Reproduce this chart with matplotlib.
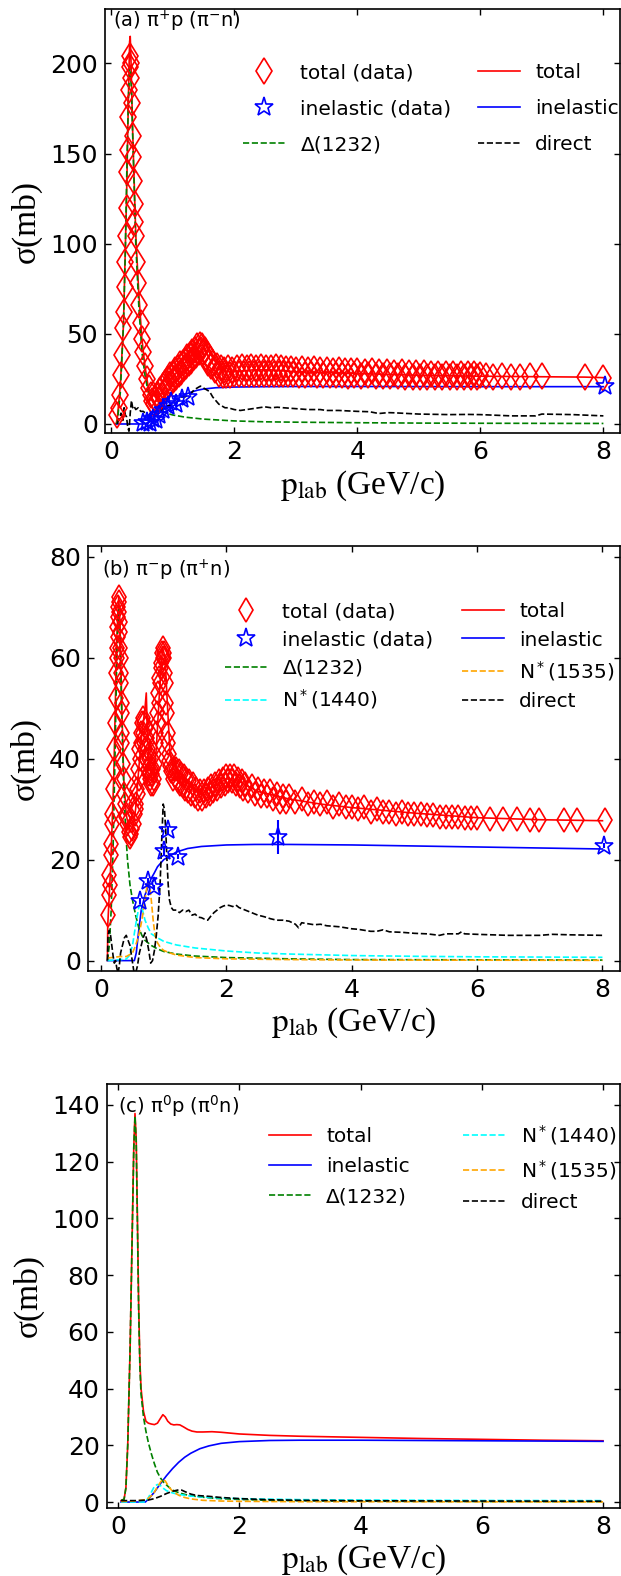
import numpy as np
import matplotlib
matplotlib.use("Agg")
import matplotlib.pyplot as plt

plt.rcParams["font.family"] = ["DejaVu Sans"]

# ---------------- panel (a): pi+ p ----------------
a_data_p = [0.10, 0.12, 0.14, 0.16, 0.18, 0.20, 0.21, 0.22, 0.23, 0.24, 0.25, 0.26, 0.27, 0.28,
            0.29, 0.30, 0.31, 0.32, 0.33, 0.34, 0.35, 0.36, 0.37, 0.38, 0.39, 0.40, 0.42, 0.44,
            0.46, 0.48, 0.50, 0.52, 0.55, 0.58, 0.61, 0.64, 0.67,
            0.70, 0.72, 0.74, 0.76, 0.78, 0.80, 0.82, 0.84, 0.86, 0.88, 0.90, 0.92, 0.94, 0.96,
            0.98, 1.00, 1.02, 1.04, 1.06, 1.08, 1.10, 1.12, 1.14, 1.16, 1.18, 1.20, 1.22, 1.24,
            1.26, 1.28, 1.30, 1.32, 1.34, 1.36, 1.38, 1.40, 1.42, 1.44, 1.46, 1.48, 1.50, 1.52,
            1.54, 1.56, 1.58, 1.60, 1.63, 1.66, 1.69, 1.72, 1.75, 1.78, 1.81, 1.84, 1.87, 1.90,
            1.93, 1.96, 2.00, 2.04, 2.08, 2.12, 2.16, 2.20, 2.24, 2.28, 2.32, 2.36, 2.40, 2.44,
            2.48, 2.52, 2.56, 2.60, 2.64, 2.68, 2.72, 2.76, 2.80, 2.84, 2.88, 2.92, 2.96, 3.00,
            3.05, 3.10, 3.15, 3.20, 3.25, 3.30, 3.35, 3.40, 3.45, 3.50, 3.55, 3.60, 3.65, 3.70,
            3.75, 3.80, 3.85, 3.90, 3.95, 4.00, 4.06, 4.12, 4.18, 4.24, 4.30, 4.36, 4.42, 4.48,
            4.54, 4.60, 4.66, 4.72, 4.78, 4.84, 4.90, 4.96, 5.02, 5.08, 5.14, 5.20, 5.26, 5.32,
            5.38, 5.44, 5.50, 5.56, 5.62, 5.68, 5.74, 5.80, 5.85, 5.90, 5.95, 6.00, 6.10, 6.20,
            6.35, 6.50, 6.65, 6.80, 7.00, 7.70, 8.00]
a_data_s = [5, 9, 16, 27, 38, 53, 62, 76, 90, 104, 120, 140, 152, 170,
            185, 198, 204, 200, 192, 178, 160, 148, 135, 122, 112, 104, 90, 78,
            66, 56, 47, 40, 32, 25, 20, 16, 13,
            11, 14, 12, 16, 14, 19, 16, 21, 18, 23, 20, 25, 22, 27,
            23, 28, 25, 30, 26, 31, 28, 33, 29, 34, 31, 35, 32, 37,
            34, 38, 35, 40, 37, 41, 38, 43, 40, 44, 41, 43, 40, 41,
            37, 39, 34, 36, 32, 34, 30, 32, 28, 31, 27, 30, 27, 31,
            27, 30, 28, 31, 27.5, 31.5, 28, 31, 27.5, 31.5, 28, 31, 28, 31.5,
            28, 31, 27.5, 31, 28, 31.5, 27.5, 31, 28, 30.5, 27.5, 30.5, 28, 30,
            27, 30.5, 27, 30, 28, 30.5, 27, 30, 27, 30, 27, 29.5, 27, 30,
            27, 29.5, 26.5, 29.5, 27, 29.5, 26.5, 29, 27, 29.5, 26.5, 29, 26.5, 29,
            26.5, 28.5, 26.5, 29, 26, 28.5, 26, 28.5, 26, 28.5, 26, 28, 26, 28,
            26, 28, 26, 27.5, 26, 28, 26, 27.5, 26, 27.5, 26, 27, 26.5, 26,
            26.5, 26, 26, 26.5, 26.5, 26, 25.5]

a_tot_p = [0.08, 0.10, 0.15, 0.20, 0.25, 0.28, 0.30, 0.31, 0.32, 0.35, 0.40, 0.45, 0.50, 0.55,
           0.60, 0.65, 0.70, 0.75, 0.80, 0.90, 1.00, 1.10, 1.20, 1.30, 1.40, 1.45, 1.50, 1.60,
           1.70, 1.80, 2.00, 2.30, 2.60, 3.00, 4.00, 5.00, 6.00, 7.00, 7.70, 8.00]
a_tot_s = [0, 3, 22, 55, 125, 180, 212, 215, 205, 162, 105, 72, 47, 32,
           21, 15, 12, 13, 16, 22, 26, 30, 34, 38, 42, 44, 43, 36,
           31, 29.5, 29, 30, 30, 29, 28, 27, 26.5, 26.2, 26, 25.7]

a_inel_data_p = [0.52, 0.58, 0.63, 0.68, 0.73, 0.78, 0.85, 0.92, 0.98, 1.05, 1.15, 1.25, 8.02]
a_inel_data_s = [0.5, 1, 0.5, 3, 2, 5, 8, 10, 12, 11, 14, 15, 21]

a_inel_p = [0.08, 0.55, 0.60, 0.70, 0.80, 0.90, 1.00, 1.10, 1.20, 1.30, 1.40, 1.50, 1.70,
            2.00, 2.50, 3.00, 4.00, 6.00, 8.00]
a_inel_s = [0, 0, 1, 3.5, 6.5, 9.5, 12, 14.5, 16.3, 17.7, 18.7, 19.4, 20.1,
            20.5, 20.7, 20.8, 20.8, 20.7, 20.7]

a_delta_p = [0.08, 0.10, 0.15, 0.20, 0.23, 0.26, 0.28, 0.30, 0.31, 0.33, 0.35, 0.38, 0.40, 0.45,
             0.50, 0.55, 0.60, 0.70, 0.80, 0.90, 1.00, 1.20, 1.50, 2.00, 2.50, 3.00, 4.00, 5.00,
             6.00, 8.00]
a_delta_s = [0, 1, 18, 55, 95, 150, 180, 196, 198, 185, 160, 125, 100, 65,
             40, 27, 18, 11, 7.5, 6, 5, 3.8, 2.7, 1.7, 1.2, 1.0, 0.7, 0.5,
             0.4, 0.3]

a_dir_p = [0.10, 0.13, 0.16, 0.19, 0.21, 0.23, 0.25, 0.27, 0.29, 0.31, 0.33, 0.35, 0.37, 0.40,
           0.44, 0.48, 0.52, 0.56, 0.60, 0.63, 0.66, 0.70, 0.74, 0.78, 0.82, 0.86, 0.90, 0.95,
           1.00, 1.05, 1.10, 1.15, 1.20, 1.25, 1.30, 1.35, 1.40, 1.45, 1.50, 1.55, 1.60, 1.65,
           1.70, 1.75, 1.80, 1.85, 1.90, 2.00, 2.10, 2.20, 2.30, 2.40, 2.50, 2.60, 2.70, 2.80,
           3.00, 3.20, 3.40, 3.50, 3.70, 4.00, 4.20, 4.35, 4.50, 4.60, 5.00, 5.50, 5.80, 6.00,
           6.50, 6.90, 7.00, 7.50, 8.00]
a_dir_s = [0, 3, 6, 2, 9, 5, 4, -2, -4, 6, 13, 9, 10, 8,
           9, 7, 7, 6, 5, 2, 6, 4, 6, 7, 8, 9, 10, 10,
           11, 12, 13, 15, 15, 16, 17, 19, 20, 21, 20, 19, 18, 15,
           13, 11, 10, 9, 9, 8, 7.5, 8, 8.5, 9, 9.5, 9, 9.3, 9,
           8.5, 8, 8, 7.5, 7.5, 7, 6.8, 5.8, 6.3, 6.2, 5.5, 5.2, 5.3, 5.2,
           4.5, 4.5, 5.5, 5.2, 4.5]

# ---------------- panel (b): pi- p ----------------
b_data_p = [0.105, 0.12, 0.13, 0.14, 0.15, 0.16, 0.17, 0.18, 0.19, 0.20, 0.21, 0.22, 0.23, 0.24,
            0.25, 0.255, 0.26, 0.265, 0.27, 0.275, 0.28, 0.285, 0.29, 0.295, 0.30, 0.305, 0.31,
            0.315, 0.32, 0.325, 0.33, 0.335, 0.34, 0.35, 0.36, 0.37, 0.38, 0.39, 0.40, 0.42,
            0.44, 0.46, 0.48, 0.50, 0.52, 0.54, 0.55, 0.56, 0.57, 0.58, 0.59, 0.60, 0.61, 0.62,
            0.63, 0.64, 0.65, 0.66, 0.67, 0.68, 0.69, 0.70, 0.71, 0.72, 0.73, 0.74, 0.75, 0.76,
            0.77, 0.78, 0.79, 0.80, 0.81, 0.82, 0.83, 0.84, 0.85, 0.86, 0.87, 0.88, 0.89, 0.90,
            0.91, 0.92, 0.93, 0.94, 0.95, 0.96, 0.97, 0.98, 0.99, 1.00, 1.01, 1.02, 1.03, 1.04,
            1.05, 1.06, 1.07, 1.08, 1.09, 1.10, 1.12, 1.14, 1.16, 1.18, 1.20, 1.22, 1.24, 1.26,
            1.28, 1.30, 1.32, 1.34, 1.36, 1.38, 1.40, 1.43, 1.46, 1.49, 1.52, 1.55, 1.58, 1.61,
            1.64, 1.67, 1.70, 1.73, 1.76, 1.79, 1.82, 1.85, 1.88, 1.91, 1.94, 1.97, 2.00, 2.03,
            2.06, 2.09, 2.12, 2.15, 2.18, 2.21, 2.24, 2.27, 2.30, 2.35, 2.40, 2.45, 2.50, 2.55,
            2.60, 2.65, 2.70, 2.75, 2.80, 2.85, 2.90, 2.95, 3.00, 3.10, 3.20, 3.30, 3.40, 3.50,
            3.60, 3.70, 3.80, 3.90, 4.00, 4.10, 4.20, 4.30, 4.40, 4.50, 4.60, 4.70, 4.80, 4.90,
            5.00, 5.10, 5.20, 5.30, 5.40, 5.50, 5.60, 5.70, 5.80, 5.90, 6.00, 6.21, 6.41, 6.64,
            6.85, 6.98, 7.38, 7.60, 8.04]
b_data_s = [9, 13, 17, 15, 21, 23, 27, 29, 34, 38, 42, 47, 52, 57,
            62, 60, 66, 64, 70, 68, 72, 71, 69, 67, 65, 62, 60,
            57, 55, 51, 49, 45, 43, 39, 36, 33, 31, 29, 28.5, 27,
            25.5, 24.5, 25, 26, 27, 29, 31, 30, 34, 33, 38, 36, 42, 40,
            45, 43, 47, 45, 48, 43, 47, 42, 46, 40, 44, 38, 42, 37,
            40, 36, 38, 35, 37, 35, 38, 36, 41, 39, 45, 43, 49, 47,
            53, 51, 56, 55, 59, 58, 61, 60, 62, 61, 60, 57, 55, 51,
            49, 45, 43, 41, 39.5, 38.5, 37.5, 36, 38, 36.5, 38, 35.5, 37.5, 35,
            37, 34.5, 36.5, 34, 36, 33.5, 35.5, 33, 35, 32.5, 34, 32, 33.5, 32,
            33.5, 32.5, 34, 33, 34.5, 33.5, 35, 34, 35.5, 34.5, 36, 35, 36.5, 35.5,
            36.5, 35.5, 36.5, 35, 36, 34.5, 35.5, 34, 35, 33.5, 34.5, 33, 34, 32.5,
            33.5, 32.5, 33.5, 32, 33, 31.5, 32.5, 31.5, 32.5, 31.5, 32, 31, 31.5, 31,
            31.5, 30.5, 31, 30.5, 30.5, 30, 30.5, 29.5, 30, 29.5, 29.5, 29, 29.5, 29,
            29, 29, 28.8, 28.8, 28.5, 28.5, 28.5, 28.5, 28.3, 28.3, 28.2, 28, 28, 28,
            27.9, 27.9, 27.8, 27.8, 27.8]

b_tot_p = [0.10, 0.105, 0.15, 0.20, 0.25, 0.28, 0.30, 0.33, 0.36, 0.40, 0.45, 0.50, 0.55, 0.60,
           0.65, 0.70, 0.72, 0.74, 0.78, 0.83, 0.88, 0.93, 0.98, 1.02, 1.06, 1.10, 1.15, 1.25,
           1.40, 1.60, 1.80, 2.00, 2.20, 2.50, 3.00, 3.50, 4.00, 5.00, 6.00, 7.00, 8.00]
b_tot_s = [0, 7, 18, 36, 64, 72, 67, 50, 36, 29, 25.5, 25.5, 30, 38,
           45, 50, 53, 44, 38, 35, 42, 53, 62, 60, 50, 41, 38, 36.5,
           35, 33, 34.5, 36, 35.5, 33.5, 32, 31, 30.3, 29.2, 28.3, 27.9, 27.7]

b_inel_data_p = [0.62, 0.74, 0.84, 1.00, 1.06, 1.22, 2.82, 8.02]
b_inel_data_s = [11.8, 15.8, 14.5, 21.8, 25.9, 20.6, 24.5, 22.7]
b_inel_data_err = [0.5, 0.5, 0.5, 0.8, 0.8, 0.5, 3.3, 0.5]

b_inel_p = [0.10, 0.53, 0.56, 0.60, 0.64, 0.70, 0.80, 0.85, 0.90, 1.00, 1.12, 1.20, 1.38,
            1.60, 2.00, 2.45, 3.00, 4.00, 5.00, 6.00, 7.00, 8.00]
b_inel_s = [0, 0, 1.5, 6, 10, 13, 16.3, 17.4, 18.6, 20, 20.9, 21.5, 22.2,
            22.6, 22.9, 23, 23, 22.9, 22.7, 22.5, 22.3, 22.1]

b_delta_p = [0.10, 0.13, 0.16, 0.19, 0.22, 0.25, 0.27, 0.28, 0.30, 0.33, 0.36, 0.39, 0.42, 0.46,
             0.50, 0.55, 0.60, 0.65, 0.70, 0.80, 0.90, 1.00, 1.20, 1.50, 2.00, 3.00, 4.00, 6.00,
             8.00]
b_delta_s = [0, 3, 10, 22, 40, 60, 69, 70, 64, 48, 35, 26, 20, 15,
             12, 9, 6.5, 5, 4, 3, 2.3, 1.8, 1.3, 0.9, 0.6, 0.35, 0.2, 0.15,
             0.1]

b_n1440_p = [0.10, 0.40, 0.45, 0.50, 0.55, 0.60, 0.63, 0.66, 0.70, 0.75, 0.80, 0.90, 1.00, 1.20,
             1.50, 2.00, 2.50, 3.00, 4.00, 5.00, 6.00, 7.00, 8.00]
b_n1440_s = [0, 0.3, 1, 3, 7, 10.5, 11, 10, 8, 6.5, 5.3, 4.5, 3.8, 3.1,
             2.5, 1.9, 1.5, 1.3, 1.0, 0.85, 0.75, 0.7, 0.65]

b_n1535_p = [0.10, 0.30, 0.40, 0.50, 0.55, 0.60, 0.65, 0.70, 0.74, 0.77, 0.80, 0.83, 0.86, 0.90,
             0.95, 1.00, 1.10, 1.20, 1.50, 2.00, 3.00, 4.00, 8.00]
b_n1535_s = [0.5, 0.8, 0.8, 1.5, 3, 5, 8, 12, 15.5, 15, 12, 8, 5, 3.5,
             2.5, 2, 1.5, 1.1, 0.6, 0.35, 0.2, 0.12, 0.05]

b_dir_p = [0.10, 0.11, 0.13, 0.15, 0.17, 0.19, 0.21, 0.23, 0.25, 0.27, 0.29, 0.31, 0.34, 0.37,
           0.40, 0.43, 0.46, 0.49, 0.52, 0.55, 0.58, 0.61, 0.64, 0.67, 0.70, 0.73, 0.76, 0.79,
           0.82, 0.85, 0.88, 0.91, 0.94, 0.97, 0.99, 1.01, 1.03, 1.05, 1.07, 1.09, 1.12, 1.15,
           1.20, 1.25, 1.30, 1.35, 1.40, 1.45, 1.50, 1.55, 1.60, 1.65, 1.70, 1.75, 1.80, 1.85,
           1.90, 1.95, 2.00, 2.05, 2.10, 2.15, 2.20, 2.30, 2.40, 2.50, 2.60, 2.70, 2.80, 2.90,
           3.00, 3.10, 3.15, 3.20, 3.30, 3.40, 3.50, 3.60, 3.70, 3.80, 3.90, 4.00, 4.10, 4.20,
           4.30, 4.40, 4.50, 4.60, 4.80, 5.00, 5.20, 5.40, 5.50, 5.70, 5.75, 5.80, 6.00, 6.50,
           7.00, 7.20, 7.50, 8.00]
b_dir_s = [0, 5, 6, 5, 3, 1, -0.5, 0, -1.5, -2.5, -1, 1.5, 3, 4.5,
           5, 4, 3, 0.5, -2, -2.5, -1, 1.5, 3, 4.5, 5.5, 4, 2, -0.5,
           0, 2, 5, 9, 15, 25, 31, 30, 26, 20, 15, 12, 10.5, 10,
           10, 9.5, 10, 9.7, 10, 9, 9.2, 8.6, 8.5, 8.2, 8, 8.8, 9.5, 10,
           10.5, 10.8, 11, 10.9, 10.7, 11, 10.5, 10, 9.5, 9, 8.7, 8.3, 8, 8,
           7.8, 7.2, 6.5, 7.5, 7.3, 7.1, 7.2, 6.9, 6.8, 6.7, 6.5, 6.3, 6.2, 6.0,
           5.8, 5.8, 6.1, 5.7, 5.6, 5.4, 5.3, 5.0, 5.3, 5.3, 5.7, 5.3, 5.2, 5.0,
           5.0, 5.2, 5.1, 5.0]

# ---------------- panel (c): pi0 p ----------------
c_tot_p = [0.05, 0.10, 0.13, 0.16, 0.20, 0.23, 0.26, 0.28, 0.30, 0.32, 0.34, 0.36, 0.38, 0.42,
           0.46, 0.50, 0.55, 0.60, 0.65, 0.70, 0.74, 0.78, 0.82, 0.87, 0.92, 0.97, 1.02, 1.08,
           1.15, 1.22, 1.30, 1.40, 1.55, 1.70, 2.00, 2.50, 3.00, 4.00, 5.00, 6.00, 7.00, 8.00]
c_tot_s = [0.5, 1, 5, 20, 55, 90, 125, 137, 128, 100, 70, 50, 40, 32,
           28.5, 27.8, 27.5, 27.3, 27.8, 29.5, 30.8, 30, 28.5, 27.5, 27.2, 27.3, 27.2, 26.5,
           25.6, 25, 24.7, 24.7, 24.8, 24.6, 24, 23.5, 23.2, 22.8, 22.4, 22.1, 21.8, 21.6]

c_inel_p = [0.05, 0.45, 0.50, 0.60, 0.70, 0.80, 0.90, 1.00, 1.10, 1.20, 1.35, 1.50, 1.70, 2.00,
            2.50, 3.00, 4.00, 5.00, 6.00, 7.00, 8.00]
c_inel_s = [0, 0, 1, 3.5, 6.5, 9.3, 11.8, 14, 15.8, 17.2, 18.8, 19.8, 20.7, 21.3,
            21.7, 21.8, 21.8, 21.7, 21.6, 21.5, 21.4]

c_delta_p = [0.05, 0.10, 0.13, 0.16, 0.20, 0.23, 0.26, 0.28, 0.30, 0.32, 0.34, 0.36, 0.38, 0.42,
             0.46, 0.50, 0.55, 0.60, 0.65, 0.70, 0.75, 0.80, 0.85, 0.90, 1.00, 1.10, 1.20, 1.40,
             1.60, 2.00, 2.50, 3.00, 4.00, 5.00, 6.00, 8.00]
c_delta_s = [0.5, 1, 5, 20, 55, 90, 125, 136, 127, 98, 68, 48, 38, 30,
             25, 21, 17, 13.5, 10.5, 8.5, 7, 6, 5, 4.2, 3.3, 2.7, 2.2, 1.7,
             1.3, 0.9, 0.6, 0.45, 0.3, 0.22, 0.17, 0.12]

c_n1440_p = [0.05, 0.45, 0.50, 0.55, 0.60, 0.65, 0.70, 0.75, 0.80, 0.90, 1.00, 1.20, 1.50, 2.00,
             3.00, 4.00, 6.00, 8.00]
c_n1440_s = [0, 0, 1.5, 3.5, 5.5, 6.2, 5.8, 4.8, 4, 3.2, 2.7, 2.1, 1.6, 1.2,
             0.85, 0.7, 0.55, 0.5]

c_n1535_p = [0.05, 0.30, 0.45, 0.50, 0.55, 0.60, 0.65, 0.70, 0.74, 0.78, 0.82, 0.86, 0.90, 1.00,
             1.10, 1.20, 1.40, 1.70, 2.00, 3.00, 8.00]
c_n1535_s = [0.2, 0.4, 0.8, 1.3, 2.2, 3.5, 5.3, 7, 8, 7.4, 6, 4.8, 3.8, 2.4,
             1.6, 1.1, 0.6, 0.35, 0.25, 0.12, 0.05]

c_dir_p = [0.05, 0.30, 0.50, 0.60, 0.70, 0.80, 0.90, 1.00, 1.05, 1.10, 1.20, 1.30, 1.50, 1.70,
           2.00, 2.50, 3.00, 4.00, 6.00, 8.00]
c_dir_s = [0.5, 0.5, 0.7, 1.2, 2, 3, 3.8, 4.3, 4.2, 3.7, 2.8, 2.3, 2, 1.6,
           1.2, 0.8, 0.6, 0.45, 0.35, 0.3]

xticks = [0, 2, 4, 6, 8]

fig = plt.figure(figsize=(6.21, 15.76), dpi=100)
W, H = 621.0, 1576.0


def make_ax(left, top, right, bottom):
    return fig.add_axes([left / W, 1 - bottom / H, (right - left) / W, (bottom - top) / H])


def style(ax, xlim, ylim, yticks, label, lab_xy):
    ax.set_xlim(*xlim)
    ax.set_ylim(*ylim)
    ax.set_xticks(xticks)
    ax.set_yticks(yticks)
    ax.tick_params(direction="in", top=True, right=True, length=4, width=1,
                   labelsize=18, pad=5)
    for sp in ax.spines.values():
        sp.set_linewidth(1.2)
    ax.set_xlabel(r"$\mathrm{p_{lab}}$ (GeV/c)", fontsize=24, family="Liberation Serif",
                  math_fontfamily="stix", labelpad=3)
    ax.set_ylabel("σ(mb)", fontsize=24, family="Liberation Serif", labelpad=6)
    ax.text(lab_xy[0], lab_xy[1], label, transform=ax.transAxes, fontsize=14,
            va="center", ha="left")


lw = 1.2
ms_d = 13
ms_s = 14
leg_kw = dict(ncol=2, frameon=False, loc="upper left", borderpad=0, borderaxespad=0,
              fontsize=14.5, handlelength=2.1, handletextpad=0.75)

# ---- (a)
ax = make_ax(105, 9.3, 620, 433)
h_tot, = ax.plot(a_tot_p, a_tot_s, color="red", lw=lw, label="total")
h_inel, = ax.plot(a_inel_p, a_inel_s, color="blue", lw=lw, label="inelastic")
h_del, = ax.plot(a_delta_p, a_delta_s, color="green", lw=lw, ls="--", label="Δ(1232)")
h_dir, = ax.plot(a_dir_p, a_dir_s, color="black", lw=lw, ls="--", label="direct")
h_td, = ax.plot(a_data_p, a_data_s, ls="none", marker="d", ms=ms_d, mfc="none", mec="red",
                mew=1.2, label="total (data)")
h_id, = ax.plot(a_inel_data_p, a_inel_data_s, ls="none", marker="*", ms=ms_s, mfc="none",
                mec="blue", mew=1.2, label="inelastic (data)")
style(ax, (-0.1, 8.27), (-5, 230), [0, 50, 100, 150, 200],
      "(a) π$^{+}$p (π$^{-}$n)", (0.015, 0.972))
ax.legend(handles=[h_td, h_id, h_del, h_tot, h_inel, h_dir], bbox_to_anchor=(0.268, 0.873),
          columnspacing=1.3, labelspacing=0.85, **leg_kw)

# ---- (b)
ax = make_ax(88, 546, 620, 970.7)
h_tot, = ax.plot(b_tot_p, b_tot_s, color="red", lw=lw, label="total")
h_inel, = ax.plot(b_inel_p, b_inel_s, color="blue", lw=lw, label="inelastic")
h_del, = ax.plot(b_delta_p, b_delta_s, color="green", lw=lw, ls="--", label="Δ(1232)")
h_n14, = ax.plot(b_n1440_p, b_n1440_s, color="cyan", lw=lw, ls="--", label="N$^*$(1440)")
h_n15, = ax.plot(b_n1535_p, b_n1535_s, color="orange", lw=lw, ls="--", label="N$^*$(1535)")
h_dir, = ax.plot(b_dir_p, b_dir_s, color="black", lw=lw, ls="--", label="direct")
h_td, = ax.plot(b_data_p, b_data_s, ls="none", marker="d", ms=12.5, mfc="none", mec="red",
                mew=1.2, label="total (data)")
eb = ax.errorbar(b_inel_data_p, b_inel_data_s, yerr=b_inel_data_err, fmt="*", ms=ms_s,
                 mfc="none", mec="blue", mew=1.2, ecolor="blue", elinewidth=1.5)
h_id = eb[0]
h_id.set_label("inelastic (data)")
style(ax, (-0.21, 8.28), (-2, 82.1), [0, 20, 40, 60, 80],
      "(b) π$^{-}$p (π$^{+}$n)", (0.027, 0.943))
ax.legend(handles=[h_td, h_id, h_del, h_n14, h_tot, h_inel, h_n15, h_dir],
          bbox_to_anchor=(0.2575, 0.868), columnspacing=1.4, labelspacing=0.47, **leg_kw)

# ---- (c)
ax = make_ax(106.5, 1084, 620, 1507.7)
h_tot, = ax.plot(c_tot_p, c_tot_s, color="red", lw=lw, label="total")
h_inel, = ax.plot(c_inel_p, c_inel_s, color="blue", lw=lw, label="inelastic")
h_del, = ax.plot(c_delta_p, c_delta_s, color="green", lw=lw, ls="--", label="Δ(1232)")
h_n14, = ax.plot(c_n1440_p, c_n1440_s, color="cyan", lw=lw, ls="--", label="N$^*$(1440)")
h_n15, = ax.plot(c_n1535_p, c_n1535_s, color="orange", lw=lw, ls="--", label="N$^*$(1535)")
h_dir, = ax.plot(c_dir_p, c_dir_s, color="black", lw=lw, ls="--", label="direct")
style(ax, (-0.19, 8.28), (-2, 147.4), [0, 20, 40, 60, 80, 100, 120, 140],
      "(c) π$^{0}$p (π$^{0}$n)", (0.0216, 0.947))
ax.legend(handles=[h_tot, h_inel, h_del, h_n14, h_n15, h_dir], bbox_to_anchor=(0.316, 0.908),
          columnspacing=2.65, labelspacing=0.55, **leg_kw)

fig.savefig("out.png", dpi=100)
